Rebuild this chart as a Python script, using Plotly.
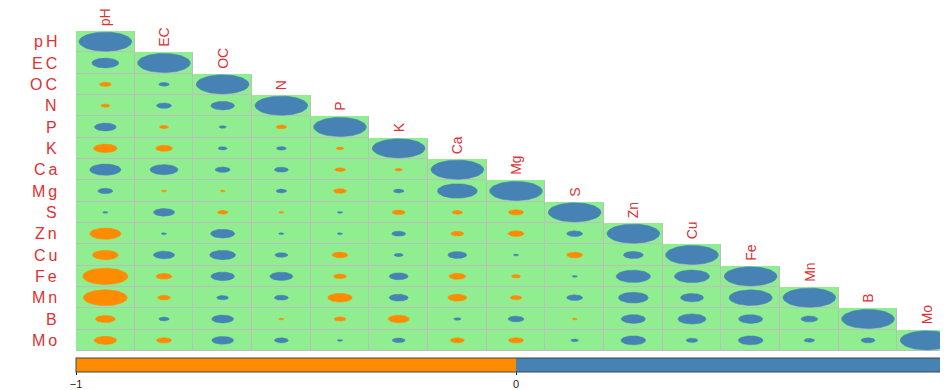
import numpy as np
import plotly.graph_objects as go

variables = ["pH", "EC", "OC", "N", "P", "K", "Ca", "Mg", "S", "Zn", "Cu", "Fe", "Mn", "B", "Mo"]

# lower-triangle correlations (row variable vs. earlier column variables)
r_pH = []
r_EC = [0.26]
r_OC = [-0.05, 0.04]
r_N = [-0.03, 0.08, 0.20]
r_P = [0.17, -0.03, 0.02, -0.04]
r_K = [-0.20, -0.10, 0.03, 0.035, -0.02]
r_Ca = [0.35, 0.28, 0.08, 0.07, -0.04, -0.02]
r_Mg = [0.08, -0.01, -0.01, 0.04, -0.06, 0.04, 0.57]
r_S = [0.01, 0.16, -0.04, -0.01, 0.01, -0.06, -0.04, -0.08]
r_Zn = [-0.35, 0.01, 0.21, 0.01, 0.01, 0.07, -0.06, -0.09, 0.09]
r_Cu = [-0.24, 0.16, 0.24, 0.06, -0.09, 0.03, 0.13, 0.01, -0.09, 0.14]
r_Fe = [-0.73, -0.09, 0.20, 0.19, -0.06, 0.13, -0.10, -0.03, 0.01, 0.42, 0.44]
r_Mn = [-0.69, -0.06, 0.05, 0.07, -0.21, 0.13, -0.13, -0.05, 0.09, 0.32, 0.19, 0.67]
r_B = [-0.14, 0.04, 0.17, -0.01, -0.05, -0.16, 0.02, 0.09, -0.01, 0.21, 0.28, 0.21, 0.10]
r_Mo = [-0.18, -0.08, 0.17, 0.07, 0.01, 0.06, -0.07, -0.08, 0.02, 0.22, 0.05, 0.22, 0.04, 0.07]
diagonal = 1.0

colorbar_ticks = [-1, 0, 1]

lower_rows = [r_pH, r_EC, r_OC, r_N, r_P, r_K, r_Ca, r_Mg, r_S, r_Zn, r_Cu, r_Fe, r_Mn, r_B, r_Mo]

NEG = "#FF8C00"
POS = "#4682B4"
CELL = "#90EE90"
GRIDC = "#BDBDBD"
LABEL = "#DC3232"

n = len(variables)
OFF = 8  # page body margin
W, H = 948 - OFF, 390 - OFF
ML, MT = 76 - OFF, 31 - OFF
grid_w = 880.0
cell_w = grid_w / n
plot_w = W - ML
plot_h = 320
MB = H - MT - plot_h

# background cells
zmask = [[1 if i >= j else None for j in range(n)] for i in range(n)]

fig = go.Figure()
fig.add_trace(go.Heatmap(z=zmask, x=list(range(n)), y=list(range(n)),
                         colorscale=[[0, GRIDC], [1, GRIDC]], showscale=False, hoverinfo="skip"))
fig.add_trace(go.Heatmap(z=zmask, x=list(range(n)), y=list(range(n)), xgap=1, ygap=1,
                         colorscale=[[0, CELL], [1, CELL]], showscale=False, hoverinfo="skip"))

t = np.linspace(0, 2 * np.pi, 72)
px, py, nx, ny = [], [], [], []
for i in range(n):
    vals = list(lower_rows[i]) + [diagonal]
    for j, r in enumerate(vals):
        rad = 0.45 * np.sqrt(abs(r))
        xs = (j + rad * np.cos(t)).tolist() + [None]
        ys = (i + rad * np.sin(t)).tolist() + [None]
        if r >= 0:
            px += xs; py += ys
        else:
            nx += xs; ny += ys

fig.add_trace(go.Scatter(x=nx, y=ny, mode="lines", fill="toself", fillcolor=NEG,
                         line=dict(color=NEG, width=0.5), hoverinfo="skip", showlegend=False))
fig.add_trace(go.Scatter(x=px, y=py, mode="lines", fill="toself", fillcolor=POS,
                         line=dict(color=POS, width=0.5), hoverinfo="skip", showlegend=False))

# colour bar carrier
fig.add_trace(go.Scatter(
    x=[0], y=[0], mode="markers", hoverinfo="skip", showlegend=False,
    marker=dict(size=0.1, opacity=0, color=[0], cmin=-1, cmax=1,
                colorscale=[[0, NEG], [0.5, NEG], [0.5, POS], [1, POS]], showscale=True,
                colorbar=dict(orientation="h", x=0, xanchor="left", xref="paper",
                              y=-7 / plot_h, yanchor="top", yref="paper",
                              lenmode="pixels", len=grid_w, thicknessmode="pixels", thickness=14,
                              xpad=0, ypad=0, outlinewidth=1, outlinecolor="#444",
                              tickvals=colorbar_ticks, ticks="outside", ticklen=3, tickcolor="#222",
                              tickfont=dict(family="Liberation Sans, Arial", size=11, color="#222")))))

annotations = []
for i, name in enumerate(variables):
    annotations.append(dict(
        text=f'<span style="letter-spacing:3px">{name}</span>', x=0, xref="paper", y=i, yref="y",
        xanchor="right", yanchor="middle", xshift=-14, showarrow=False,
        font=dict(family="Liberation Sans, Arial", size=16, color=LABEL)))
    annotations.append(dict(
        text=name, x=i, xref="x", y=i - 0.5, yref="y", textangle=-90,
        xanchor="center", yanchor="bottom", yshift=3, showarrow=False,
        font=dict(family="Liberation Sans, Arial", size=14, color=LABEL)))

fig.update_layout(
    width=W, height=H,
    margin=dict(l=ML, r=0, t=MT, b=MB, autoexpand=False, pad=0),
    paper_bgcolor="white", plot_bgcolor="white",
    showlegend=False,
    xaxis=dict(range=[-0.5, -0.5 + plot_w / cell_w], visible=False, fixedrange=True),
    yaxis=dict(range=[n - 0.5, -0.5], visible=False, fixedrange=True),
    annotations=annotations,
)

fig.write_html("out.html")
